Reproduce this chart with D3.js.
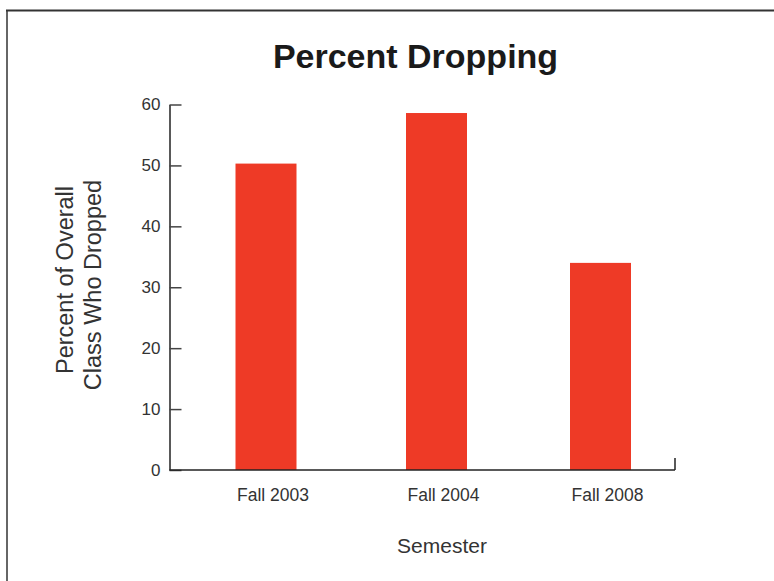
<!DOCTYPE html>
<html>
<head>
<meta charset="utf-8">
<script src="https://cdn.jsdelivr.net/npm/d3@7"></script>
<style>
  body { margin: 0; background: #fff; }
  svg { display: block; font-family: "Liberation Sans", Arial, sans-serif; }
</style>
</head>
<body>
<svg id="chart" width="774" height="581"></svg>
<script>
// data
const semesters = ["Fall 2003", "Fall 2004", "Fall 2008"];
const percentDropped = [50.3, 58.6, 34.0];
const yTicks = [0, 10, 20, 30, 40, 50, 60];

const svg = d3.select("#chart");

// outer frame (runs off the right and bottom edges)
svg.append("line").attr("x1", 7).attr("x2", 7).attr("y1", 10).attr("y2", 581)
    .attr("stroke", "#666").attr("stroke-width", 2);
svg.append("line").attr("x1", 6).attr("x2", 774).attr("y1", 10.5).attr("y2", 10.5)
    .attr("stroke", "#333").attr("stroke-width", 2);

const axisLeft = 169.5, axisRight = 675, axisBottom = 470;

const y = d3.scaleLinear()
    .domain([0, 60])
    .range([axisBottom, 104.5]);

// bar centres are not evenly spaced in the original
const x = d3.scaleOrdinal()
    .domain(semesters)
    .range([266, 436.5, 600.5]);

const barWidth = 61;

// bars
svg.selectAll(".bar")
    .data(semesters)
    .enter()
    .append("rect")
    .attr("class", "bar")
    .attr("x", d => x(d) - barWidth / 2)
    .attr("y", (d, i) => y(percentDropped[i]))
    .attr("width", barWidth)
    .attr("height", (d, i) => axisBottom - y(percentDropped[i]))
    .attr("fill", "#ee3a26");

// y axis: ticks point inward, labels on the left
const yAxis = d3.axisRight(y)
    .tickValues(yTicks)
    .tickSize(12)
    .tickSizeOuter(0)
    .tickFormat(d3.format("d"));

const yg = svg.append("g")
    .attr("transform", `translate(${axisLeft},0)`)
    .call(yAxis);
yg.select(".domain").attr("stroke", "#222").attr("stroke-width", 1.5);
yg.selectAll(".tick line").attr("stroke", "#444").attr("stroke-width", 1.5);
yg.selectAll(".tick text")
    .attr("x", -9)
    .attr("text-anchor", "end")
    .attr("fill", "#333")
    .attr("font-size", 17);

// x axis baseline with the little end mark
svg.append("line")
    .attr("x1", axisLeft).attr("x2", axisRight)
    .attr("y1", axisBottom).attr("y2", axisBottom)
    .attr("stroke", "#222").attr("stroke-width", 1.5);
svg.append("line")
    .attr("x1", axisRight).attr("x2", axisRight)
    .attr("y1", axisBottom).attr("y2", axisBottom - 12)
    .attr("stroke", "#222").attr("stroke-width", 1.5);

// category labels
svg.selectAll(".xlab")
    .data(semesters)
    .enter()
    .append("text")
    .attr("class", "xlab")
    .attr("x", d => x(d) + 7)
    .attr("y", 501)
    .attr("text-anchor", "middle")
    .attr("font-size", 17.5)
    .attr("fill", "#333")
    .text(d => d);

// title
svg.append("text")
    .attr("x", 415.5)
    .attr("y", 68)
    .attr("text-anchor", "middle")
    .attr("font-size", 34)
    .attr("font-weight", "bold")
    .attr("fill", "#1a1a1a")
    .text("Percent Dropping");

// axis titles
svg.append("text")
    .attr("x", 442)
    .attr("y", 553)
    .attr("text-anchor", "middle")
    .attr("font-size", 21)
    .attr("fill", "#333")
    .text("Semester");

const yTitle = svg.append("text")
    .attr("transform", "rotate(-90)")
    .attr("text-anchor", "middle")
    .attr("font-size", 23.5)
    .attr("fill", "#333");
yTitle.append("tspan").attr("x", -280).attr("y", 73).text("Percent of Overall");
yTitle.append("tspan").attr("x", -285).attr("y", 101).text("Class Who Dropped");
</script>
</body>
</html>
